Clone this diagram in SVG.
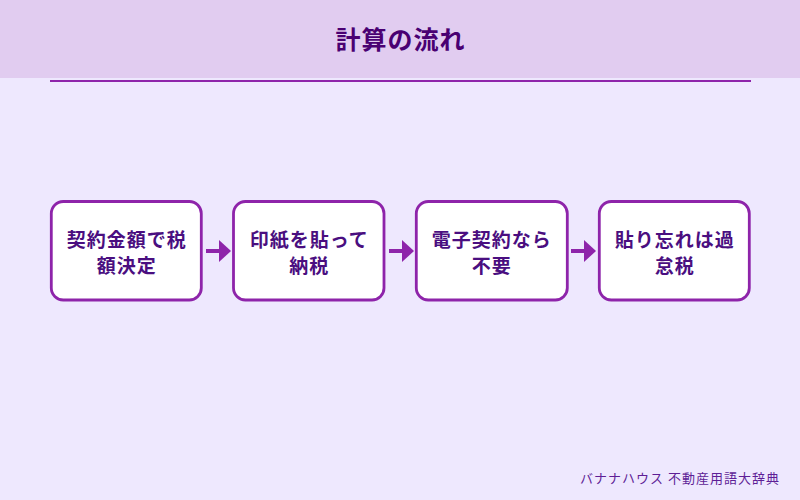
<svg xmlns="http://www.w3.org/2000/svg" width="800" height="500" viewBox="0 0 800 500">
<style>
.box{fill:#fff;stroke:#8E24AA;stroke-width:2.8}
.lbl{font-family:"Noto Sans CJK JP","Noto Sans",sans-serif;font-size:19px;font-weight:700;fill:#4A0E80;text-anchor:middle;letter-spacing:1px}
.conn{fill:none;stroke:#8E24AA;stroke-width:4}
.head{fill:#8E24AA}
</style>
<rect width="800" height="500" fill="#EEE8FE"/>
<rect width="800" height="78" fill="#E1CCF0"/>
<line x1="50" y1="81" x2="751" y2="81" stroke="#8E24AA" stroke-width="2"/>
<text x="400.500" y="49" font-family="'Noto Sans CJK JP','Noto Sans',sans-serif" font-size="25" font-weight="700" fill="#4A0072" text-anchor="middle" letter-spacing="1">計算の流れ</text>
<g id="connectors">
<path class="conn" d="M206 251H221"/><polygon class="head" points="219,240 231,251 219,262"/>
<path class="conn" d="M389 251H404"/><polygon class="head" points="402,240 414,251 402,262"/>
<path class="conn" d="M571 251H586"/><polygon class="head" points="584,240 596,251 584,262"/>
</g>
<g id="node1"><rect class="box" x="51.300" y="201.500" width="150" height="98.500" rx="12"/><text class="lbl" x="126.800" y="247">契約金額で税</text><text class="lbl" x="126.800" y="273">額決定</text></g>
<g id="node2"><rect class="box" x="233.500" y="201.500" width="150.500" height="98.500" rx="12"/><text class="lbl" x="309.300" y="247">印紙を貼って</text><text class="lbl" x="309.300" y="273">納税</text></g>
<g id="node3"><rect class="box" x="416.300" y="201.500" width="151" height="98.500" rx="12"/><text class="lbl" x="491.800" y="247">電子契約なら</text><text class="lbl" x="491.800" y="273">不要</text></g>
<g id="node4"><rect class="box" x="599.300" y="201.500" width="150" height="98.500" rx="12"/><text class="lbl" x="674.800" y="247">貼り忘れは過</text><text class="lbl" x="674.800" y="273">怠税</text></g>
<text x="780" y="483" font-family="'Noto Sans CJK JP','Noto Sans',sans-serif" font-size="13" fill="#5E1E96" text-anchor="end" letter-spacing="1">バナナハウス 不動産用語大辞典</text>
</svg>
